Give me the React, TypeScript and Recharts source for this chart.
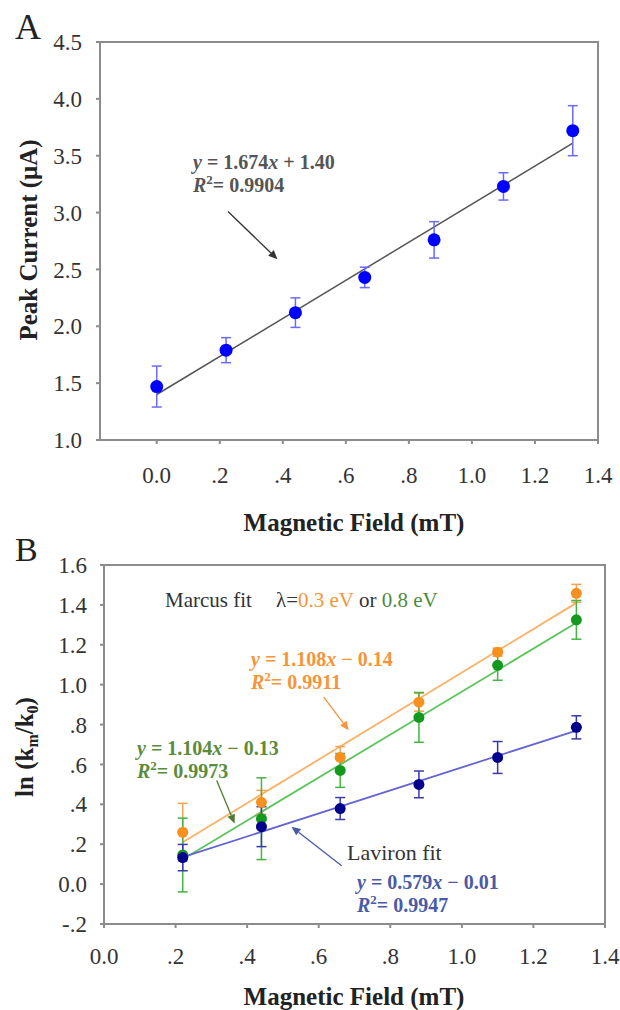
import React from 'react';
import {
  ComposedChart,
  Scatter,
  Line,
  XAxis,
  YAxis,
  ErrorBar,
  ReferenceArea,
  ReferenceLine,
} from 'recharts';

// field steps (mT)
const fieldA = [0, 0.22, 0.44, 0.66, 0.88, 1.1, 1.32];
const fieldB = [0.22, 0.44, 0.66, 0.88, 1.1, 1.32];

// panel A: peak current (uA) and its error
const currentA = [1.47, 1.79, 2.12, 2.43, 2.76, 3.23, 3.72];
const currentErrA = [0.18, 0.11, 0.13, 0.09, 0.16, 0.12, 0.22];
const fitA = [
  { x: 0, y: 1.4 },
  { x: 1.32, y: 3.61 },
];

// panel B: ln(km/k0)
const marcus03 = [0.26, 0.41, 0.635, 0.912, 1.163, 1.458];
const marcus03Err = [0.145, 0.06, 0.055, 0.045, 0.02, 0.045];
const marcus08 = [0.146, 0.328, 0.57, 0.836, 1.097, 1.325];
const marcus08Err = [0.185, 0.205, 0.085, 0.125, 0.075, 0.097];
const laviron = [0.133, 0.288, 0.379, 0.5, 0.635, 0.786];
const lavironErr = [0.066, 0.1, 0.055, 0.067, 0.08, 0.058];

const fit03 = [
  { x: 0.22, y: 0.21 },
  { x: 1.32, y: 1.41 },
];
const fit08 = [
  { x: 0.22, y: 0.125 },
  { x: 1.32, y: 1.31 },
];
const fitLav = [
  { x: 0.22, y: 0.135 },
  { x: 1.32, y: 0.77 },
];

const xTicksA = [0, 0.2, 0.4, 0.6, 0.8, 1.0, 1.2, 1.4];
const yTicksA = [1.0, 1.5, 2.0, 2.5, 3.0, 3.5, 4.0, 4.5];
const xTicksB = [0, 0.2, 0.4, 0.6, 0.8, 1.0, 1.2, 1.4];
const yTicksB = [-0.2, 0, 0.2, 0.4, 0.6, 0.8, 1.0, 1.2, 1.4, 1.6];

// annotation arrows, in data units [tail, head]
const arrowA = [
  { x: 0.226, y: 3.01 },
  { x: 0.383, y: 2.59 },
];
const arrow03 = [
  { x: 0.614, y: 0.937 },
  { x: 0.684, y: 0.771 },
];
const arrow08 = [
  { x: 0.315, y: 0.52 },
  { x: 0.365, y: 0.304 },
];
const arrowLav = [
  { x: 0.664, y: 0.092 },
  { x: 0.524, y: 0.288 },
];

const pts = (xs: number[], ys: number[], es: number[]) =>
  xs.map((x, i) => ({ x, y: ys[i], e: es[i] }));

const FONT = 'Liberation Serif, Tinos, Times New Roman, DejaVu Serif, serif';
const AXIS = '#8c8c8c';

const fmt = (v: number) => {
  if (Math.abs(v) < 1e-9) return '0.0';
  const s = v.toFixed(1);
  return Math.abs(v) < 1 ? s.replace('0.', '.') : s;
};

const tickStyle = { fill: '#333', fontSize: 23, fontFamily: FONT };

const dot = (r: number, fill: string) => (p: any) =>
  <circle cx={p.cx} cy={p.cy} r={r} fill={fill} />;

const arrowShape = (color: string) => (p: any) => {
  const { x1, y1, x2, y2 } = p;
  const a = Math.atan2(y2 - y1, x2 - x1);
  const L = 9;
  const W = 4;
  const bx = x2 - L * Math.cos(a);
  const by = y2 - L * Math.sin(a);
  const px = -Math.sin(a) * W;
  const py = Math.cos(a) * W;
  return (
    <g>
      <line x1={x1} y1={y1} x2={bx} y2={by} stroke={color} strokeWidth={1.3} />
      <polygon points={`${x2},${y2} ${bx + px},${by + py} ${bx - px},${by - py}`} fill={color} />
    </g>
  );
};

const PanelA = () => (
  <ComposedChart width={620} height={520} margin={{ top: 42, right: 22, left: 0, bottom: 0 }}>
    <XAxis
      dataKey="x"
      type="number"
      domain={[-0.18, 1.4]}
      ticks={xTicksA}
      tickFormatter={fmt}
      allowDataOverflow
      height={80}
      stroke={AXIS}
      strokeWidth={2}
      tickSize={4}
      tickMargin={23}
      tick={tickStyle}
    />
    <YAxis
      dataKey="y"
      type="number"
      domain={[1, 4.5]}
      ticks={yTicksA}
      tickFormatter={(v: number) => v.toFixed(1)}
      allowDataOverflow
      width={100}
      stroke={AXIS}
      strokeWidth={2}
      tickSize={4}
      tickMargin={14}
      tick={tickStyle}
    />
    <ReferenceArea x1={-0.18} x2={1.4} y1={1} y2={4.5} fill="none" stroke={AXIS} strokeWidth={2} />
    <Line data={fitA} dataKey="y" stroke="#555" strokeWidth={1.5} dot={false} isAnimationActive={false} />
    <Scatter data={pts(fieldA, currentA, currentErrA)} dataKey="y" shape={dot(6.5, '#0000ff')} isAnimationActive={false}>
      <ErrorBar dataKey="e" direction="y" width={5} stroke="#6a6aff" strokeWidth={1.5} />
    </Scatter>
    <ReferenceLine segment={arrowA} shape={arrowShape('#333')} />
  </ComposedChart>
);

const PanelB = () => (
  <ComposedChart width={620} height={490} margin={{ top: 45, right: 15, left: 0, bottom: 0 }}>
    <XAxis
      dataKey="x"
      type="number"
      domain={[0, 1.4]}
      ticks={xTicksB}
      tickFormatter={fmt}
      allowDataOverflow
      height={86}
      stroke={AXIS}
      strokeWidth={2}
      tickSize={4}
      tickMargin={20}
      tick={tickStyle}
    />
    <YAxis
      dataKey="y"
      type="number"
      domain={[-0.2, 1.6]}
      ticks={yTicksB}
      tickFormatter={fmt}
      allowDataOverflow
      width={104}
      stroke={AXIS}
      strokeWidth={2}
      tickSize={4}
      tickMargin={13}
      tick={tickStyle}
    />
    <ReferenceArea x1={0} x2={1.4} y1={-0.2} y2={1.6} fill="none" stroke={AXIS} strokeWidth={2} />
    <Line data={fit03} dataKey="y" stroke="#fbb066" strokeWidth={1.8} dot={false} isAnimationActive={false} />
    <Line data={fit08} dataKey="y" stroke="#5cc45c" strokeWidth={1.8} dot={false} isAnimationActive={false} />
    <Line data={fitLav} dataKey="y" stroke="#6464d2" strokeWidth={1.8} dot={false} isAnimationActive={false} />
    <Scatter data={pts(fieldB, marcus03, marcus03Err)} dataKey="y" shape={dot(5.5, '#f7901e')} isAnimationActive={false}>
      <ErrorBar dataKey="e" direction="y" width={5} stroke="#f7a150" strokeWidth={1.5} />
    </Scatter>
    <Scatter data={pts(fieldB, marcus08, marcus08Err)} dataKey="y" shape={dot(5.5, '#139a1e')} isAnimationActive={false}>
      <ErrorBar dataKey="e" direction="y" width={5} stroke="#44b444" strokeWidth={1.5} />
    </Scatter>
    <Scatter data={pts(fieldB, laviron, lavironErr)} dataKey="y" shape={dot(5.5, '#00008c')} isAnimationActive={false}>
      <ErrorBar dataKey="e" direction="y" width={5} stroke="#3a3aa8" strokeWidth={1.5} />
    </Scatter>
    <ReferenceLine segment={arrow03} shape={arrowShape('#f7943a')} />
    <ReferenceLine segment={arrow08} shape={arrowShape('#4f7a30')} />
    <ReferenceLine segment={arrowLav} shape={arrowShape('#4a5aa8')} />
  </ComposedChart>
);

const Eq = ({ x, y, color, a, b, r2 }: { x: number; y: number; color: string; a: string; b: string; r2: string }) => (
  <g fill={color} style={{ fontFamily: FONT }} fontSize={20} fontWeight="bold">
    <text x={x} y={y}>
      <tspan fontStyle="italic">y</tspan> = {a}
      <tspan fontStyle="italic">x</tspan> {b}
    </text>
    <text x={x} y={y + 23}>
      <tspan fontStyle="italic">R</tspan>
      <tspan fontSize={13} dy={-8}>2</tspan>
      <tspan dy={8}>= {r2}</tspan>
    </text>
  </g>
);

const Overlay = () => (
  <svg width={620} height={1010} style={{ position: 'absolute', left: 0, top: 0, pointerEvents: 'none', fontFamily: FONT }}>
    <g fill="#222">
      <text x={15} y={39} fontSize={36}>A</text>
      <text x={15} y={561} fontSize={34}>B</text>
      <text x={354} y={531} fontSize={25} fontWeight="bold" textAnchor="middle">Magnetic Field (mT)</text>
      <text x={354} y={1005} fontSize={25} fontWeight="bold" textAnchor="middle">Magnetic Field (mT)</text>
      <text x={0} y={0} fontSize={25} fontWeight="bold" textAnchor="middle" transform="translate(37,240) rotate(-90)">
        Peak Current (μA)
      </text>
      <text x={0} y={0} fontSize={25} fontWeight="bold" textAnchor="middle" transform="translate(33,747) rotate(-90)">
        ln (k<tspan fontSize={16} dy={5}>m</tspan>
        <tspan dy={-5}>/k</tspan>
        <tspan fontSize={16} dy={5}>0</tspan>
        <tspan dy={-5}>)</tspan>
      </text>
      <text x={165} y={607} fontSize={21} fill="#333">Marcus fit</text>
      <text x={276} y={607} fontSize={21} fill="#333">
        λ=<tspan fill="#f7943a">0.3 eV</tspan> or <tspan fill="#4f8a3c">0.8 eV</tspan>
      </text>
      <text x={347} y={860} fontSize={22} fill="#333">Laviron fit</text>
    </g>
    <Eq x={193} y={169} color="#555" a="1.674" b="+ 1.40" r2="0.9904" />
    <Eq x={251} y={666} color="#f7943a" a="1.108" b="− 0.14" r2="0.9911" />
    <Eq x={137} y={755} color="#5b8c3a" a="1.104" b="− 0.13" r2="0.9973" />
    <Eq x={357} y={889} color="#4a5aa8" a="0.579" b="− 0.01" r2="0.9947" />
  </svg>
);

export default function App() {
  return (
    <div style={{ position: 'absolute', left: 0, top: 0, width: 620, height: 1010, background: '#fff', fontFamily: FONT }}>
      <div style={{ position: 'absolute', left: 0, top: 0 }}>
        <PanelA />
      </div>
      <div style={{ position: 'absolute', left: 0, top: 520 }}>
        <PanelB />
      </div>
      <Overlay />
    </div>
  );
}
